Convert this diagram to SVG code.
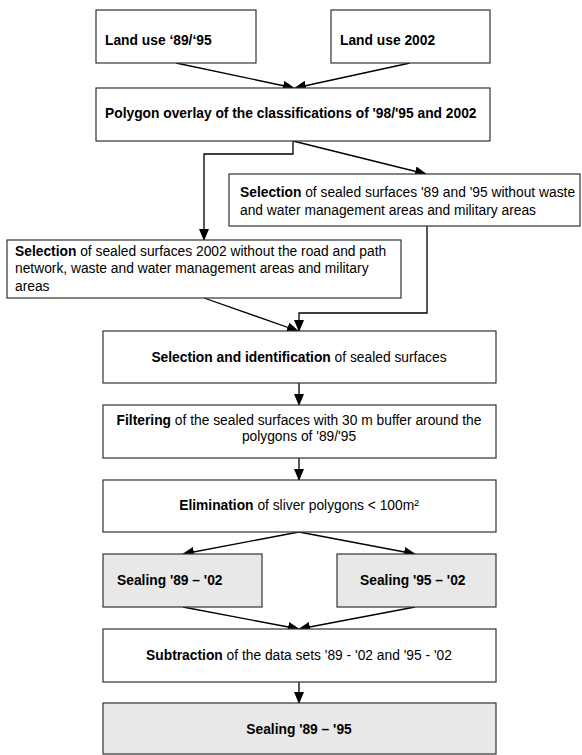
<svg xmlns="http://www.w3.org/2000/svg" width="582" height="755" viewBox="0 0 582 755">
<style>
.box{fill:#ffffff;stroke:#333333;stroke-width:1.2}
.grey{fill:#e8e8e8;stroke:#333333;stroke-width:1.2}
.t{font-family:"Liberation Sans",Arial,sans-serif;font-size:13.8px;fill:#000}
.b{font-weight:bold}
.c{text-anchor:middle}
.ln{fill:none;stroke:#000;stroke-width:1.3;marker-end:url(#ah)}
</style>
<defs>
<marker id="ah" markerUnits="userSpaceOnUse" markerWidth="12" markerHeight="10" viewBox="0 0 12 10" refX="11" refY="5" orient="auto">
<path d="M0,0 L12,5 L0,10 z" fill="#000"/>
</marker>
</defs>
<rect width="582" height="755" fill="#fff"/>
<g id="connectors">
<line class="ln" x1="176" y1="63" x2="294" y2="88"/>
<line class="ln" x1="410" y1="63" x2="295" y2="88"/>
<polyline class="ln" points="293,141 293,154 204,154 204,240"/>
<line class="ln" x1="293" y1="141" x2="426" y2="174"/>
<line class="ln" x1="204" y1="298" x2="298" y2="331"/>
<polyline class="ln" points="427,226 427,313 299,313 299,331"/>
<line class="ln" x1="299" y1="383" x2="299" y2="405"/>
<line class="ln" x1="299" y1="458" x2="299" y2="480"/>
<line class="ln" x1="299" y1="532" x2="183" y2="554"/>
<line class="ln" x1="299" y1="532" x2="415" y2="554"/>
<line class="ln" x1="183" y1="607" x2="299" y2="629"/>
<line class="ln" x1="415" y1="607" x2="299" y2="629"/>
<line class="ln" x1="299" y1="682" x2="299" y2="703"/>
</g>
<g id="landuse8995">
<rect class="box" x="96" y="10" width="160" height="53"/>
<text class="t b" x="105" y="45">Land use ‘89/‘95</text>
</g>
<g id="landuse2002">
<rect class="box" x="331" y="10" width="159" height="53"/>
<text class="t b" x="340" y="45">Land use 2002</text>
</g>
<g id="overlay">
<rect class="box" x="96" y="88" width="394" height="53"/>
<text class="t b" x="105" y="118">Polygon overlay of the classifications of '98/'95 and 2002</text>
</g>
<g id="selection8995">
<rect class="box" x="229" y="174" width="351" height="52"/>
<text class="t" x="240" y="197"><tspan class="b">Selection</tspan> of sealed surfaces '89 and '95 without waste</text>
<text class="t" x="240" y="215">and water management areas and military areas</text>
</g>
<g id="selection2002">
<rect class="box" x="7" y="240" width="394" height="58"/>
<text class="t" x="15" y="256"><tspan class="b">Selection</tspan> of sealed surfaces 2002 without the road and path</text>
<text class="t" x="15" y="273">network, waste and water management areas and military</text>
<text class="t" x="15" y="291">areas</text>
</g>
<g id="identification">
<rect class="box" x="103" y="331" width="393" height="52"/>
<text class="t c" x="299" y="362"><tspan class="b">Selection and identification</tspan> of sealed surfaces</text>
</g>
<g id="filtering">
<rect class="box" x="103" y="405" width="393" height="53"/>
<text class="t c" x="299" y="425"><tspan class="b">Filtering</tspan> of the sealed surfaces with 30 m buffer around the</text>
<text class="t c" x="299" y="441">polygons of '89/'95</text>
</g>
<g id="elimination">
<rect class="box" x="103" y="480" width="393" height="52"/>
<text class="t c" x="299" y="510"><tspan class="b">Elimination</tspan> of sliver polygons &lt; 100m²</text>
</g>
<g id="sealing8902">
<rect class="grey" x="103" y="554" width="159" height="53"/>
<text class="t b" x="117" y="585">Sealing '89 – '02</text>
</g>
<g id="sealing9502">
<rect class="grey" x="337" y="554" width="159" height="53"/>
<text class="t b" x="360" y="585">Sealing '95 – '02</text>
</g>
<g id="subtraction">
<rect class="box" x="103" y="629" width="393" height="53"/>
<text class="t c" x="299" y="660"><tspan class="b">Subtraction</tspan> of the data sets '89 - '02 and '95 - '02</text>
</g>
<g id="sealing8995">
<rect class="grey" x="103" y="703" width="393" height="51"/>
<text class="t b c" x="299" y="734">Sealing '89 – '95</text>
</g>
</svg>
